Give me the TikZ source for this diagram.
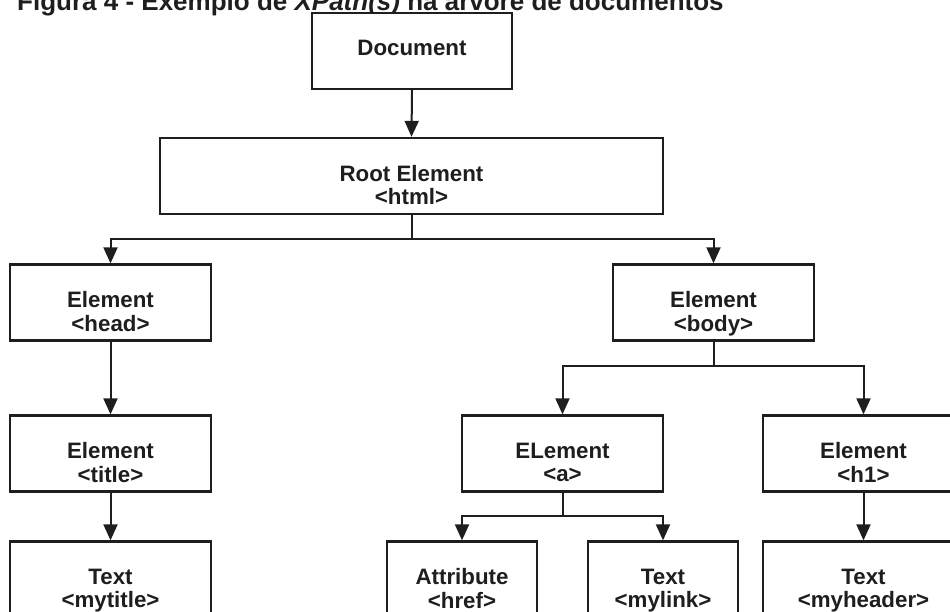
\documentclass[tikz,border=0pt]{standalone}
\usepackage{fontspec}
\setmainfont{Liberation Sans}
\usetikzlibrary{arrows.meta}
\definecolor{ink}{HTML}{1E1E1E}
\tikzset{
  box/.style={draw=ink, line width=2.3pt, fill=white, inner sep=0pt,
              minimum width=201pt, minimum height=76pt},
  narrowbox/.style={box, minimum width=150pt},
  lbl/.style={font=\bfseries\fontsize{22.3}{23.5}\selectfont, align=center,
              text=ink, inner sep=0pt,
              execute at begin node=\strut, execute at end node=\strut},
  conn/.style={draw=ink, line width=2pt},
  arr/.style={conn, -{Triangle[length=16pt,width=14pt]}},
}
\begin{document}
\begin{tikzpicture}[x=1pt, y=-1pt]
\useasboundingbox (0,0) rectangle (950,612);
\clip (0,0) rectangle (950,612);

% caption
\node[anchor=base west, inner sep=0pt, text=ink,
      font=\bfseries\fontsize{26}{28}\selectfont] (caption) at (17,11)
  {Figura 4 - Exemplo de \textit{XPath(s)} na árvore de documentos};

% boxes
\node[box, minimum width=200pt] (doc)  at (412,51) {};
\node[box, minimum width=503pt] (root) at (411.5,176) {};
\node[box] (head)     at (110.5,302.5) {};
\node[box] (body)     at (713.5,302.5) {};
\node[box] (title)    at (110.5,453.5) {};
\node[box] (a)        at (562.5,453.5) {};
\node[box] (h1)       at (863.5,453.5) {};
\node[box] (mytitle)  at (110.5,579.5) {};
\node[narrowbox] (href)   at (462,579.5) {};
\node[narrowbox] (mylink) at (663,579.5) {};
\node[box] (myheader) at (863.5,579.5) {};

% labels (two-line labels sit a little below the box centre)
\tikzset{low/.style={yshift=-12.5pt}}
\node[lbl] (doc-t)      at (doc.center) {Document};
\node[lbl] (root-t)     at ([low]root.center) {Root Element\\<html>};
\node[lbl] (head-t)     at ([low]head.center) {Element\\<head>};
\node[lbl] (body-t)     at ([low]body.center) {Element\\<body>};
\node[lbl] (title-t)    at ([low]title.center) {Element\\<title>};
\node[lbl] (a-t)        at ([low]a.center) {ELement\\<a>};
\node[lbl] (h1-t)       at ([low]h1.center) {Element\\<h1>};
\node[lbl] (mytitle-t)  at ([low]mytitle.center) {Text\\<mytitle>};
\node[lbl] (href-t)     at ([low]href.center) {Attribute\\<href>};
\node[lbl] (mylink-t)   at ([low]mylink.center) {Text\\<mylink>};
\node[lbl] (myheader-t) at ([low]myheader.center) {Text\\<myheader>};

% branch points
\coordinate (jroot) at (411.5,239);
\coordinate (jbody) at (713.5,366);
\coordinate (ja)    at (562.5,516);

% connectors
\draw[arr] (doc.south) -- (root.north);
\draw[conn] (root.south) -- (jroot);
\draw[arr] (jroot) -| (head.north);
\draw[arr] (jroot) -| (body.north);
\draw[arr] (head.south) -- (title.north);
\draw[arr] (title.south) -- (mytitle.north);
\draw[conn] (body.south) -- (jbody);
\draw[arr] (jbody) -| (a.north);
\draw[arr] (jbody) -| (h1.north);
\draw[conn] (a.south) -- (ja);
\draw[arr] (ja) -| (href.north);
\draw[arr] (ja) -| (mylink.north);
\draw[arr] (h1.south) -- (myheader.north);
\end{tikzpicture}
\end{document}
